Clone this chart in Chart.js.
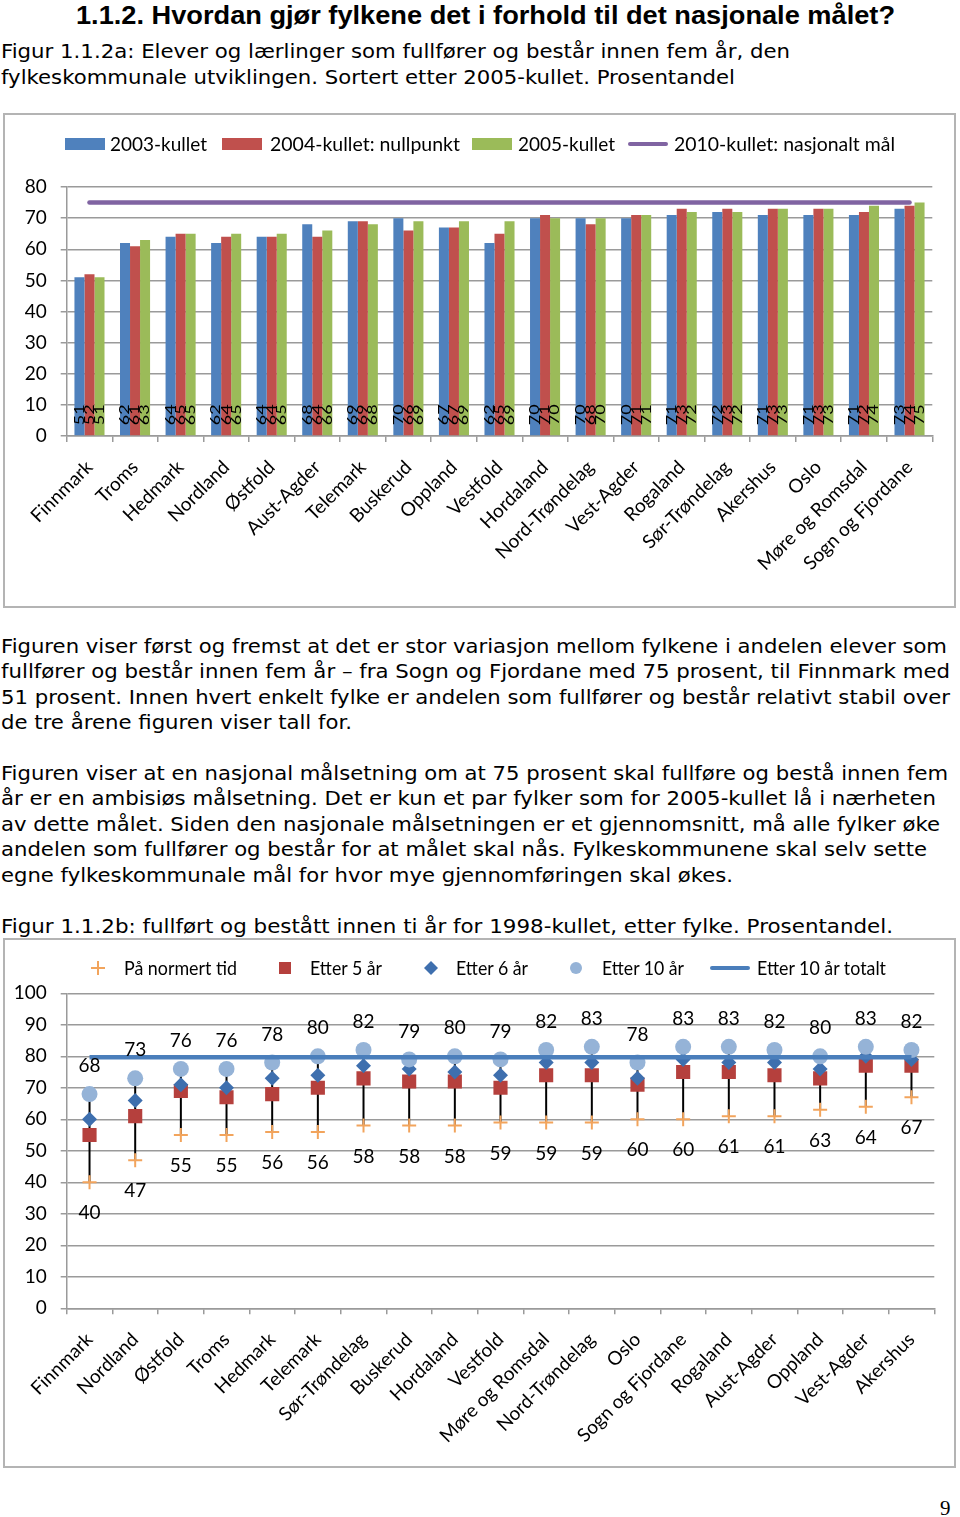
<!DOCTYPE html>
<html><head><meta charset="utf-8">
<script src="https://cdn.jsdelivr.net/npm/chart.js@4/dist/chart.umd.min.js"></script>
<style>
html,body{margin:0;padding:0;background:#fff;}
body{width:960px;height:1517px;position:relative;overflow:hidden;font-family:'DejaVu Sans',sans-serif;color:#000;}
.t{position:absolute;white-space:nowrap;transform-origin:0 50%;height:26px;line-height:26px;font-size:20px;}
.title{font-family:'Liberation Sans',Arial,sans-serif;font-weight:bold;font-size:26px;height:30px;line-height:30px;}
.box{position:absolute;border:2px solid #b4b4b4;box-sizing:border-box;}
canvas{position:absolute;}
.lg{position:absolute;font-family:Lato,sans-serif;font-size:19px;white-space:nowrap;height:22px;line-height:22px;transform-origin:0 50%;}
.sw{position:absolute;}
.pg{position:absolute;left:940px;top:1496px;font-family:'Liberation Serif',serif;font-size:21px;line-height:24px;}
</style></head>
<body>
<div class="t title" style="left:76px;top:0px" data-w="819">1.1.2. Hvordan gjør fylkene det i forhold til det nasjonale målet?</div>
<div class="t" style="left:1px;top:38px" data-w="789">Figur 1.1.2a: Elever og lærlinger som fullfører og består innen fem år, den</div>
<div class="t" style="left:1px;top:64px" data-w="734">fylkeskommunale utviklingen. Sortert etter 2005-kullet. Prosentandel</div>

<div class="box" style="left:3px;top:113px;width:953px;height:495px"></div>
<canvas id="c1" width="952" height="494" style="left:3px;top:113px"></canvas>

<div class="sw" style="left:65px;top:138px;width:40px;height:12px;background:#4F81BD"></div>
<div class="lg" style="left:110px;top:133px" data-w="97">2003-kullet</div>
<div class="sw" style="left:222px;top:138px;width:40px;height:12px;background:#C0504D"></div>
<div class="lg" style="left:270px;top:133px" data-w="190">2004-kullet: nullpunkt</div>
<div class="sw" style="left:472px;top:138px;width:40px;height:12px;background:#9BBB59"></div>
<div class="lg" style="left:518px;top:133px" data-w="97">2005-kullet</div>
<div class="sw" style="left:628px;top:142px;width:40px;height:4px;background:#8064A2;border-radius:2px"></div>
<div class="lg" style="left:674px;top:133px" data-w="221">2010-kullet: nasjonalt mål</div>

<div class="t" style="left:1px;top:633px" data-w="946">Figuren viser først og fremst at det er stor variasjon mellom fylkene i andelen elever som</div>
<div class="t" style="left:1px;top:658px" data-w="949">fullfører og består innen fem år – fra Sogn og Fjordane med 75 prosent, til Finnmark med</div>
<div class="t" style="left:1px;top:684px" data-w="949">51 prosent. Innen hvert enkelt fylke er andelen som fullfører og består relativt stabil over</div>
<div class="t" style="left:1px;top:709px" data-w="351">de tre årene figuren viser tall for.</div>

<div class="t" style="left:1px;top:760px" data-w="947">Figuren viser at en nasjonal målsetning om at 75 prosent skal fullføre og bestå innen fem</div>
<div class="t" style="left:1px;top:785px" data-w="935">år er en ambisiøs målsetning. Det er kun et par fylker som for 2005-kullet lå i nærheten</div>
<div class="t" style="left:1px;top:811px" data-w="939">av dette målet. Siden den nasjonale målsetningen er et gjennomsnitt, må alle fylker øke</div>
<div class="t" style="left:1px;top:836px" data-w="926">andelen som fullfører og består for at målet skal nås. Fylkeskommunene skal selv sette</div>
<div class="t" style="left:1px;top:862px" data-w="732">egne fylkeskommunale mål for hvor mye gjennomføringen skal økes.</div>

<div class="t" style="left:1px;top:913px" data-w="892">Figur 1.1.2b: fullført og bestått innen ti år for 1998-kullet, etter fylke. Prosentandel.</div>

<div class="box" style="left:3px;top:938px;width:953px;height:530px"></div>
<canvas id="c2" width="952" height="529" style="left:3px;top:938px"></canvas>

<svg class="sw" style="left:91px;top:961px" width="14" height="14"><path d="M7 0V14M0 7H14" stroke="#F2A45C" stroke-width="2"/></svg>
<div class="lg" style="left:124px;top:957px" data-w="113">På normert tid</div>
<div class="sw" style="left:279px;top:962px;width:12px;height:12px;background:#B5403D"></div>
<div class="lg" style="left:310px;top:957px" data-w="72">Etter 5 år</div>
<svg class="sw" style="left:424px;top:961px" width="14" height="14"><path d="M7 0L14 7L7 14L0 7Z" fill="#3E6FAE"/></svg>
<div class="lg" style="left:456px;top:957px" data-w="72">Etter 6 år</div>
<svg class="sw" style="left:570px;top:962px" width="12" height="12"><circle cx="6" cy="6" r="6" fill="#95B3D7"/></svg>
<div class="lg" style="left:602px;top:957px" data-w="82">Etter 10 år</div>
<div class="sw" style="left:710px;top:966px;width:40px;height:4px;background:#4A7EBB;border-radius:2px"></div>
<div class="lg" style="left:757px;top:957px" data-w="129">Etter 10 år totalt</div>

<div class="pg">9</div>

<script>
// ---------- Figur 1.1.2a data ----------
const counties1 = ['Finnmark','Troms','Hedmark','Nordland','Østfold','Aust-Agder','Telemark','Buskerud','Oppland','Vestfold','Hordaland','Nord-Trøndelag','Vest-Agder','Rogaland','Sør-Trøndelag','Akershus','Oslo','Møre og Romsdal','Sogn og Fjordane'];
const kull2003 = [51,62,64,62,64,68,69,70,67,62,70,70,70,71,72,71,71,71,73];
const kull2004 = [52,61,65,64,64,64,69,66,67,65,71,68,71,73,73,73,73,72,74];
const kull2005 = [51,63,65,65,65,66,68,69,69,69,70,70,71,72,72,73,73,74,75];
const maal2010 = [75,75,75,75,75,75,75,75,75,75,75,75,75,75,75,75,75,75,75];
const ticks1 = [0,10,20,30,40,50,60,70,80];

// ---------- Figur 1.1.2b data ----------
const counties2 = ['Finnmark','Nordland','Østfold','Troms','Hedmark','Telemark','Sør-Trøndelag','Buskerud','Hordaland','Vestfold','Møre og Romsdal','Nord-Trøndelag','Oslo','Sogn og Fjordane','Rogaland','Aust-Agder','Oppland','Vest-Agder','Akershus'];
const normertTid = [40,47,55,55,56,56,58,58,58,59,59,59,60,60,61,61,63,64,67];
const etter5 = [55,61,69,67,68,70,73,72,72,70,74,74,71,75,75,74,73,77,77];
const etter6 = [60,66,71,70,73,74,77,76,75,74,78,78,73,79,78,78,76,80,79];
const etter10 = [68,73,76,76,78,80,82,79,80,79,82,83,78,83,83,82,80,83,82];
const etter10Totalt = [79.7,79.7,79.7,79.7,79.7,79.7,79.7,79.7,79.7,79.7,79.7,79.7,79.7,79.7,79.7,79.7,79.7,79.7,79.7];
const ticks2 = [0,10,20,30,40,50,60,70,80,90,100];

// text fitting
function fitText(){
  document.querySelectorAll('[data-w]').forEach(el=>{
    el.style.transform='none';
    const w = el.getBoundingClientRect().width;
    el.style.transform='scaleX('+(parseFloat(el.dataset.w)/w)+')';
  });
}
fitText();
if (document.fonts && document.fonts.ready) document.fonts.ready.then(fitText);

Chart.defaults.font.family = 'Lato, sans-serif';
Chart.defaults.color = '#000';
const GRID = '#9a9a9a';

const barLabels = {
  id:'barLabels',
  afterDatasetsDraw(chart){
    const ctx = chart.ctx;
    ctx.save();
    ctx.font = '18px Lato, sans-serif';
    ctx.fillStyle = '#000';
    ctx.textAlign = 'left';
    ctx.textBaseline = 'middle';
    chart.data.datasets.forEach((ds,di)=>{
      if (ds.type === 'line') return;
      const meta = chart.getDatasetMeta(di);
      meta.data.forEach((bar,i)=>{
        ctx.save();
        ctx.translate(bar.x, bar.base - 10);
        ctx.rotate(-Math.PI/2);
        ctx.scale(1, 0.75);
        ctx.fillText(String(ds.data[i]), 0, 0);
        ctx.restore();
      });
    });
    ctx.restore();
  }
};

new Chart(document.getElementById('c1'), {
  type:'bar',
  data:{
    labels: counties1,
    datasets:[
      {type:'line', label:'2010-kullet: nasjonalt mål', data:maal2010, borderColor:'#8064A2', borderWidth:4.5, pointRadius:0, order:0, borderCapStyle:'round'},
      {label:'2003-kullet', data:kull2003, backgroundColor:'#4F81BD', order:1},
      {label:'2004-kullet: nullpunkt', data:kull2004, backgroundColor:'#C0504D', order:2},
      {label:'2005-kullet', data:kull2005, backgroundColor:'#9BBB59', order:3}
    ]
  },
  options:{
    responsive:false, animation:false, devicePixelRatio:1,
    layout:{padding:{top:74, right:22.7, bottom:0, left:0}},
    plugins:{legend:{display:false}, tooltip:{enabled:false}},
    datasets:{bar:{barPercentage:1, categoryPercentage:0.66}},
    scales:{
      x:{
        offset:true,
        grid:{display:true, drawOnChartArea:false, drawTicks:true, tickLength:6, color:GRID, lineWidth:1.5, offset:true},
        border:{display:true, color:GRID, width:1.5},
        ticks:{autoSkip:false, minRotation:45, maxRotation:45, padding:14, font:{size:19}},
        afterFit(s){ s.height = 171; }
      },
      y:{
        min:0, max:80,
        afterBuildTicks(s){ s.ticks = ticks1.map(v=>({value:v})); },
        grid:{color:GRID, lineWidth:1.5, tickLength:6},
        border:{display:true, color:GRID, width:1.5},
        ticks:{padding:14, font:{size:19}},
        afterFit(s){ s.width = 63.7; }
      }
    }
  },
  plugins:[barLabels]
});

const hiLo = {
  id:'hiLo',
  beforeDatasetsDraw(chart){
    const ctx = chart.ctx, xs = chart.scales.x, ys = chart.scales.y;
    ctx.save();
    ctx.strokeStyle = '#000';
    ctx.lineWidth = 2;
    counties2.forEach((c,i)=>{
      const vals = [normertTid[i], etter5[i], etter6[i], etter10[i]];
      const x = xs.getPixelForValue(i);
      ctx.beginPath();
      ctx.moveTo(x, ys.getPixelForValue(Math.min(...vals)));
      ctx.lineTo(x, ys.getPixelForValue(Math.max(...vals)));
      ctx.stroke();
    });
    ctx.restore();
  }
};
const pointLabels = {
  id:'pointLabels',
  afterDatasetsDraw(chart){
    const ctx = chart.ctx;
    ctx.save();
    ctx.font = '19px Lato, sans-serif';
    ctx.fillStyle = '#000';
    ctx.textAlign = 'center';
    ctx.textBaseline = 'middle';
    const m0 = chart.getDatasetMeta(0), m3 = chart.getDatasetMeta(3);
    m0.data.forEach((p,i)=>ctx.fillText(String(normertTid[i]), p.x, p.y + 31));
    m3.data.forEach((p,i)=>ctx.fillText(String(etter10[i]), p.x, p.y - 28));
    ctx.restore();
  }
};

new Chart(document.getElementById('c2'), {
  type:'line',
  data:{
    labels: counties2,
    datasets:[
      {label:'På normert tid', data:normertTid, showLine:false, pointStyle:'cross', pointRadius:7, pointBorderWidth:2, borderColor:'#F2A45C', backgroundColor:'#F2A45C', order:4},
      {label:'Etter 5 år', data:etter5, showLine:false, pointStyle:'rect', pointRadius:10, pointBorderWidth:0, borderColor:'#B5403D', backgroundColor:'#B5403D', order:3},
      {label:'Etter 6 år', data:etter6, showLine:false, pointStyle:'rectRot', pointRadius:7.5, pointBorderWidth:0, borderColor:'#3E6FAE', backgroundColor:'#3E6FAE', order:2},
      {label:'Etter 10 år', data:etter10, showLine:false, pointStyle:'circle', pointRadius:8, pointBorderWidth:0, borderColor:'#95B3D7', backgroundColor:'#95B3D7', order:1},
      {label:'Etter 10 år totalt', data:etter10Totalt, showLine:true, borderColor:'#4A7EBB', borderWidth:4.5, pointRadius:0, order:0}
    ]
  },
  options:{
    responsive:false, animation:false, devicePixelRatio:1,
    layout:{padding:{top:55.3, right:20.7, bottom:0, left:0}},
    plugins:{legend:{display:false}, tooltip:{enabled:false}},
    scales:{
      x:{
        offset:true,
        grid:{display:true, drawOnChartArea:false, drawTicks:true, tickLength:6, color:GRID, lineWidth:1.5, offset:true},
        border:{display:true, color:GRID, width:1.5},
        ticks:{autoSkip:false, minRotation:45, maxRotation:45, padding:14, font:{size:19}},
        afterFit(s){ s.height = 158.7; }
      },
      y:{
        min:0, max:100,
        afterBuildTicks(s){ s.ticks = ticks2.map(v=>({value:v})); },
        grid:{color:GRID, lineWidth:1.5, tickLength:6},
        border:{display:true, color:GRID, width:1.5},
        ticks:{padding:14, font:{size:19}},
        afterFit(s){ s.width = 63.7; }
      }
    }
  },
  plugins:[hiLo, pointLabels]
});
</script>
</body></html>
